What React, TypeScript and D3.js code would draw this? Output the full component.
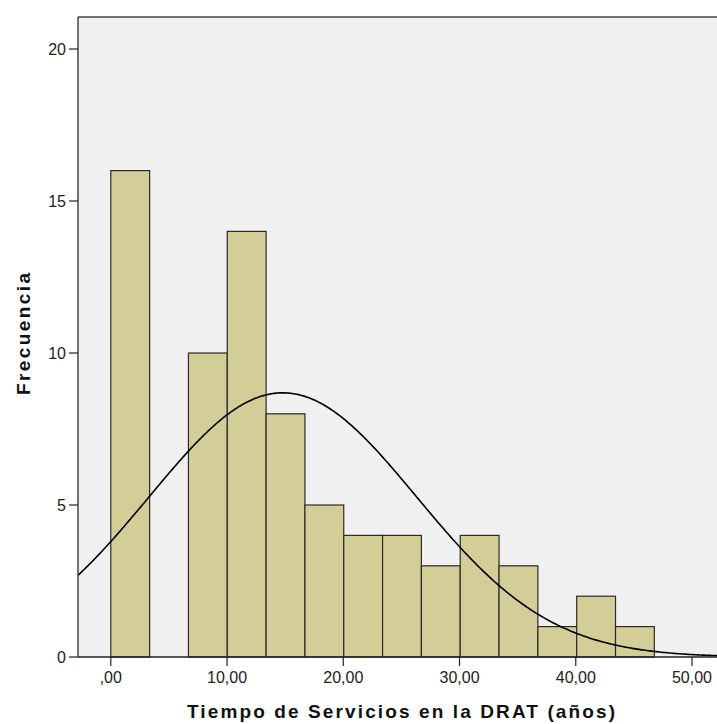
import React from "react";
import * as d3 from "d3";

const binStarts = [0, 3.34, 6.68, 10.02, 13.36, 16.7, 20.04, 23.38, 26.72, 30.06, 33.4, 36.74, 40.08, 43.42];
const binWidth = 3.34;
const counts = [16, 0, 10, 14, 8, 5, 4, 4, 3, 4, 3, 1, 2, 1];
const xTicks = [0, 10, 20, 30, 40, 50];
const xTickLabels = [",00", "10,00", "20,00", "30,00", "40,00", "50,00"];
const yTicks = [0, 5, 10, 15, 20];
const curveMean = 14.8;
const curveSd = 11.5;
const totalN = 75;

export default function App() {
  const W = 717, H = 724;
  const left = 78, top = 17, right = 717, bottom = 657;
  const x = d3.scaleLinear().domain([0, 50]).range([110.8, 692]);
  const xMin = x.invert(left), xMax = x.invert(right);
  const y = d3.scaleLinear().domain([0, 20]).range([bottom, 49]);

  const curvePts = d3.range(0, 401).map(i => {
    const v = xMin + (xMax - xMin) * i / 400;
    const z = (v - curveMean) / curveSd;
    const dens = totalN * binWidth / (curveSd * Math.sqrt(2 * Math.PI)) * Math.exp(-0.5 * z * z);
    return [v, dens] as [number, number];
  });
  const line = d3.line<[number, number]>().x(d => x(d[0])).y(d => y(d[1]));

  const font = "'Liberation Sans', Arial, sans-serif";
  return (
    <svg width={W} height={H} style={{ position: "absolute", left: 0, top: 0, background: "#fff" }}>
      <rect x={left} y={top} width={right - left} height={bottom - top} fill="#F0F0F0" />
      {counts.map((c, i) => c > 0 ? (
        <rect key={i} x={x(binStarts[i])} y={y(c)} width={x(binStarts[i] + binWidth) - x(binStarts[i])} height={bottom - y(c)}
          fill="#D3CE97" stroke="#2b2b2b" strokeWidth={1.2} />
      ) : null)}
      <path d={line(curvePts) || ""} fill="none" stroke="#000" strokeWidth={1.6} />
      <line x1={left} y1={top} x2={right} y2={top} stroke="#444" strokeWidth={1.5} />
      <line x1={left} y1={top} x2={left} y2={bottom} stroke="#444" strokeWidth={1.5} />
      <line x1={left} y1={bottom} x2={right} y2={bottom} stroke="#222" strokeWidth={1.5} />
      {yTicks.map(t => (
        <g key={t}>
          <line x1={left - 9} x2={left} y1={y(t)} y2={y(t)} stroke="#222" strokeWidth={1.2} />
          <text x={left - 12} y={y(t)} dy="0.36em" textAnchor="end" fontSize={16} fontFamily={font} fill="#222">{t}</text>
        </g>
      ))}
      {xTicks.map((t, i) => (
        <g key={t}>
          <line x1={x(t)} x2={x(t)} y1={bottom} y2={bottom + 9} stroke="#222" strokeWidth={1.2} />
          <text x={x(t)} y={683} textAnchor="middle" fontSize={16} fontFamily={font} fill="#222">{xTickLabels[i]}</text>
        </g>
      ))}
      <text x={401} y={718} textAnchor="middle" fontSize={19} fontWeight="bold" fontFamily={font} fill="#111"
        textLength={428} lengthAdjust="spacing">Tiempo de Servicios en la DRAT (años)</text>
      <text transform={`translate(30, 334) rotate(-90)`} textAnchor="middle" fontSize={19} fontWeight="bold" fontFamily={font} fill="#111"
        textLength={122} lengthAdjust="spacing">Frecuencia</text>
    </svg>
  );
}
